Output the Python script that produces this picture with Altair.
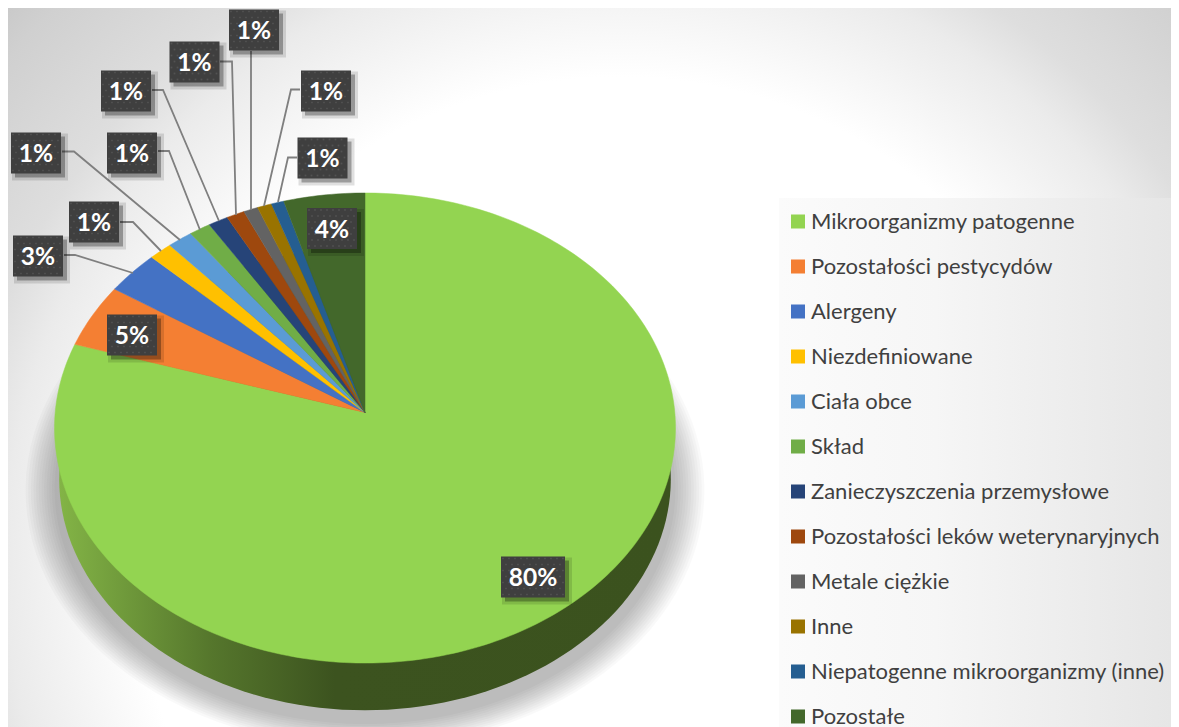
import math
import altair as alt
import pandas as pd

# ---------- data ----------
categories = ["Mikroorganizmy patogenne", "Pozostałości pestycydów", "Alergeny", "Niezdefiniowane",
              "Ciała obce", "Skład", "Zanieczyszczenia przemysłowe", "Pozostałości leków weterynaryjnych",
              "Metale ciężkie", "Inne", "Niepatogenne mikroorganizmy (inne)", "Pozostałe"]
values = [79.8, 4.4, 3.0, 1.3, 1.4, 1.2, 1.1, 1.0, 0.8, 0.8, 0.7, 4.5]
labels = ["80%", "5%", "3%", "1%", "1%", "1%", "1%", "1%", "1%", "1%", "1%", "4%"]
colors = ["#93D451", "#F47F33", "#4472C4", "#FFC000", "#5B9BD5", "#70AD47",
          "#264478", "#9E480E", "#636363", "#997300", "#255E91", "#43682B"]

# ---------- layout of the picture (page pixels) ----------
CX, CY, RX, RY, K = 365.0, 412.5, 309.8, 234.0, 0.066
DEPTH = 51.0
label_cx = [533, 132, 38, 94, 36, 132, 126, 194.5, 254, 326, 322.5, 332]
label_cy = [577, 335, 256, 222, 153, 153, 91, 62, 30, 91, 158, 228.5]
leaders = {
    2: [(64, 255), (75, 255), (133, 273)],
    3: [(120, 222), (133, 222), (161, 251)],
    4: [(62, 151.5), (74, 151.5), (180, 240)],
    5: [(158, 151), (169, 151), (200, 230)],
    6: [(152, 90), (163, 90), (219, 221)],
    7: [(220, 61.5), (232, 61.5), (236, 215)],
    8: [(251, 51), (251, 210)],
    9: [(300, 89.5), (291, 89.5), (264, 206)],
    10: [(297, 157.5), (288, 157.5), (278, 202)],
}

def rim(theta_deg, scale=1.0, dy=0.0):
    t = math.radians(theta_deg)
    w = 1 + K * math.cos(t)
    return CX + scale * RX * math.sin(t) / w, CY + dy - scale * RY * math.cos(t) / w

total = sum(values)
faces, start = [], 0.0
for name, v in zip(categories, values):
    end = start + v / total * 360
    pts = [(CX, CY)]
    steps = max(2, int(end - start) + 1)
    pts += [rim(start + (end - start) * i / steps) for i in range(steps + 1)]
    pts.append((CX, CY))
    for i, (x, y) in enumerate(pts):
        faces.append({"name": name, "i": i, "x": x, "y": y})
    start = end
faces = pd.DataFrame(faces)

wall = pd.DataFrame([{"i": a, "x": rim(a, 0.985, DEPTH)[0], "y": rim(a, 0.985, DEPTH)[1]} for a in range(0, 361, 2)])

shadow = []
for ring in range(12):
    g = 1 + ring * 0.0085
    for a in range(0, 361, 3):
        x, y = rim(a, g, DEPTH + 10)
        shadow.append({"ring": ring, "i": a, "x": x, "y": y})
shadow = pd.DataFrame(shadow)

box_w = [64 if len(t) > 2 else 50 for t in labels]
boxes = pd.DataFrame({"x": [c - w / 2 for c, w in zip(label_cx, box_w)],
                      "x2": [c + w / 2 for c, w in zip(label_cx, box_w)],
                      "y": [c - 20.5 for c in label_cy], "y2": [c + 20.5 for c in label_cy],
                      "cx": label_cx, "cy": label_cy, "t": labels})
sh1 = boxes.copy()
for c in ["x", "x2", "y", "y2"]:
    sh1[c] = sh1[c] + 4
sh2 = boxes.copy()
sh2["x"] += 1; sh2["y"] += 1; sh2["x2"] += 7; sh2["y2"] += 7

dots = []
for cx, cy, w in zip(label_cx, label_cy, box_w):
    for r in range(7):
        for c in range(int(w // 6) + 1):
            px = cx - w / 2 + 2 + c * 6 + (3 if r % 2 else 0)
            py = cy - 20.5 + 2 + r * 6
            if px < cx + w / 2 - 1:
                dots.append({"x": px, "y": py})
dots = pd.DataFrame(dots)

leader_rows = []
for k, pts in leaders.items():
    for i, (x, y) in enumerate(pts):
        leader_rows.append({"k": k, "i": i, "x": x, "y": y})
leader_rows = pd.DataFrame(leader_rows)

# ---------- scales ----------
xs = alt.Scale(domain=[8, 1171], nice=False, zero=False)
ys = alt.Scale(domain=[727, 8], nice=False, zero=False)
X = alt.X("x:Q", scale=xs, axis=None)
Y = alt.Y("y:Q", scale=ys, axis=None)

bg_grad = {"gradient": "radial", "x1": 0.526, "y1": 0.6655, "r1": 0.0, "x2": 0.526, "y2": 0.6655, "r2": 0.755,
           "stops": [{"offset": 0, "color": "#ffffff"}, {"offset": 0.55, "color": "#ffffff"},
                     {"offset": 0.70, "color": "#ebebeb"}, {"offset": 0.76, "color": "#dedede"},
                     {"offset": 0.90, "color": "#d0d0d0"}, {"offset": 0.95, "color": "#c8c8c8"},
                     {"offset": 1, "color": "#c0c0c0"}]}
panel_grad = {"gradient": "linear", "x1": 0, "y1": 0, "x2": 1, "y2": 0,
              "stops": [{"offset": 0, "color": "#fbfbfb"}, {"offset": 0.4, "color": "#f6f6f6"},
                        {"offset": 1, "color": "#e6e6e6"}]}
wall_grad = {"gradient": "linear", "x1": 0, "y1": 0, "x2": 1, "y2": 0,
             "stops": [{"offset": 0, "color": "#83B446"}, {"offset": 0.25, "color": "#55762C"},
                       {"offset": 0.45, "color": "#3C531F"}, {"offset": 1, "color": "#3B521E"}]}

bg = alt.Chart(pd.DataFrame({"x": [8], "x2": [1171], "y": [8], "y2": [727]})).mark_rect(fill=bg_grad).encode(
    x=X, x2="x2:Q", y=Y, y2="y2:Q")
panel = alt.Chart(pd.DataFrame({"x": [779], "x2": [1171], "y": [198], "y2": [727]})).mark_rect(fill=panel_grad).encode(
    x=X, x2="x2:Q", y=Y, y2="y2:Q")
shadow_layer = alt.Chart(shadow).mark_line(fill="#000000", fillOpacity=0.024, strokeOpacity=0, strokeWidth=0).encode(
    x=X, y=Y, detail="ring:N", order="i:Q")
wall_layer = alt.Chart(wall).mark_line(fill=wall_grad, strokeOpacity=0).encode(x=X, y=Y, order="i:Q")

legend = alt.Legend(orient="none", legendX=779, legendY=203, title=None, symbolType="square", symbolSize=196,
                    symbolStrokeWidth=0, labelFont="Lato", labelFontSize=22, labelColor="#404040",
                    labelOffset=2, rowPadding=22, clipHeight=21, padding=0, labelLimit=400)
cscale = alt.Scale(domain=categories, range=colors)
face_layer = alt.Chart(faces).mark_line(strokeWidth=0.5).encode(
    x=X, y=Y, order="i:Q",
    fill=alt.Fill("name:N", scale=cscale, legend=legend, sort=categories),
    stroke=alt.Stroke("name:N", scale=cscale, legend=None, sort=categories))

lead = alt.Chart(leader_rows).mark_line(color="#7f7f7f", strokeWidth=1.8).encode(x=X, y=Y, detail="k:N", order="i:Q")
s1 = alt.Chart(sh2).mark_rect(fill="#000000", opacity=0.12).encode(x=X, x2="x2:Q", y=Y, y2="y2:Q")
s2 = alt.Chart(sh1).mark_rect(fill="#000000", opacity=0.3).encode(x=X, x2="x2:Q", y=Y, y2="y2:Q")
box = alt.Chart(boxes).mark_rect(fill="#3F3F3F").encode(x=X, x2="x2:Q", y=Y, y2="y2:Q")
dot = alt.Chart(dots).mark_square(size=3, color="#525252", opacity=1).encode(x=X, y=Y)
txt = alt.Chart(boxes).mark_text(font="Lato", fontSize=24.5, fontWeight="bold", color="#ffffff", baseline="middle", dy=2).encode(
    x=alt.X("cx:Q", scale=xs, axis=None), y=alt.Y("cy:Q", scale=ys, axis=None), text="t:N")

chart = alt.layer(bg, panel, shadow_layer, wall_layer, face_layer, lead, s1, s2, box, dot, txt).resolve_scale(
    fill="shared", stroke="shared"
).properties(width=1163, height=719, padding=0, autosize=alt.AutoSizeParams(type="none")).configure_view(stroke=None)

chart.save("out.html", embed_options={"renderer": "svg", "actions": False})
